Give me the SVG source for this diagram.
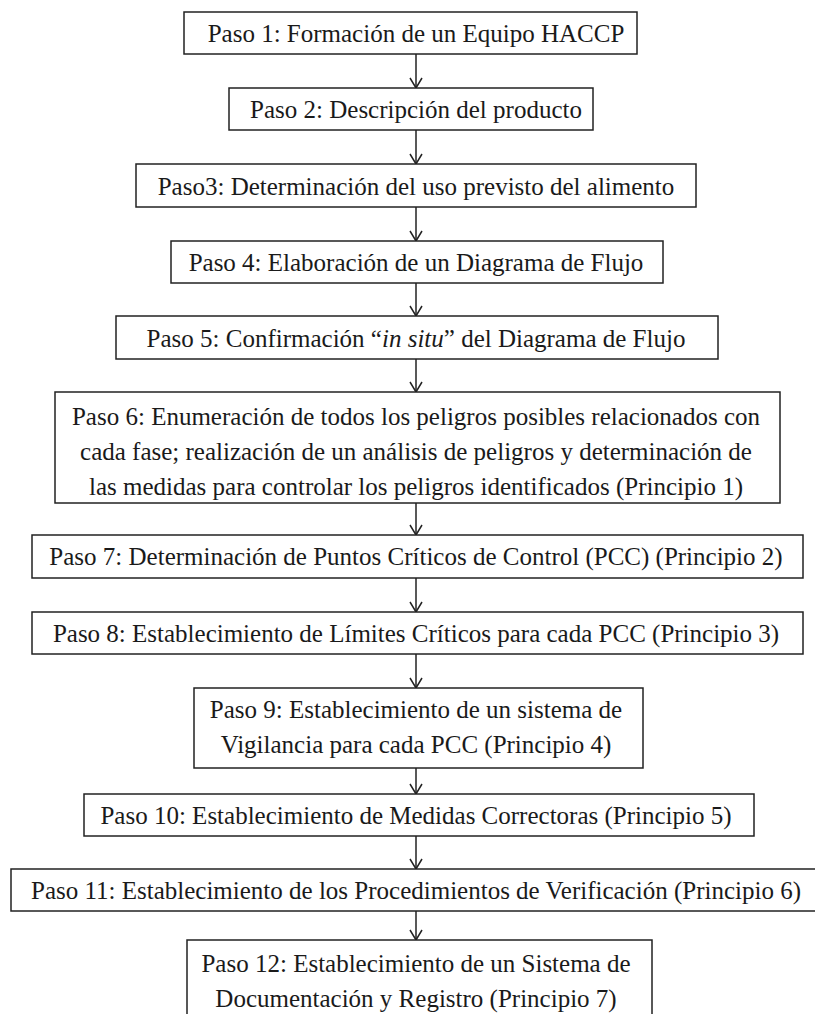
<svg xmlns="http://www.w3.org/2000/svg" width="815" height="1014" viewBox="0 0 815 1014">
<defs>
<style>
.box{fill:#fff;stroke:#222;stroke-width:1.5}
.t{font-family:'Liberation Serif','Times New Roman',Tinos,'DejaVu Serif',serif;font-size:25px;fill:#1a1a1a;text-anchor:middle}
.c{stroke:#222;stroke-width:1.5;fill:none}
</style>
<marker id="ah" viewBox="0 0 12 14" refX="11" refY="7" markerWidth="12" markerHeight="14" markerUnits="userSpaceOnUse" orient="auto">
<path d="M1,1 L11,7 L1,13" fill="none" stroke="#222" stroke-width="1.5"/>
</marker>
</defs>
<rect width="815" height="1014" fill="#fff"/>
<g id="connectors">
<line class="c" x1="416" y1="54" x2="416" y2="88" marker-end="url(#ah)"/>
<line class="c" x1="416" y1="130" x2="416" y2="164" marker-end="url(#ah)"/>
<line class="c" x1="416" y1="207" x2="416" y2="241" marker-end="url(#ah)"/>
<line class="c" x1="416" y1="283" x2="416" y2="316" marker-end="url(#ah)"/>
<line class="c" x1="416" y1="359" x2="416" y2="392" marker-end="url(#ah)"/>
<line class="c" x1="416" y1="503" x2="416" y2="535" marker-end="url(#ah)"/>
<line class="c" x1="416" y1="578" x2="416" y2="612" marker-end="url(#ah)"/>
<line class="c" x1="416" y1="654" x2="416" y2="688" marker-end="url(#ah)"/>
<line class="c" x1="416" y1="768" x2="416" y2="794" marker-end="url(#ah)"/>
<line class="c" x1="416" y1="836" x2="416" y2="869" marker-end="url(#ah)"/>
<line class="c" x1="416" y1="911" x2="416" y2="940" marker-end="url(#ah)"/>
</g>
<g font-family="'Liberation Serif','Times New Roman',Tinos,'DejaVu Serif',serif">
<g id="paso1"><rect class="box" x="184" y="12" width="453" height="42"/><text class="t" x="416" y="42">Paso 1: Formación de un Equipo HACCP</text></g>
<g id="paso2"><rect class="box" x="229" y="88" width="364" height="42"/><text class="t" x="416" y="118">Paso 2: Descripción del producto</text></g>
<g id="paso3"><rect class="box" x="136" y="164" width="560" height="43"/><text class="t" x="416" y="195">Paso3: Determinación del uso previsto del alimento</text></g>
<g id="paso4"><rect class="box" x="171" y="241" width="492" height="42"/><text class="t" x="416" y="271">Paso 4: Elaboración de un Diagrama de Flujo</text></g>
<g id="paso5"><rect class="box" x="116" y="316" width="602" height="43"/><text class="t" x="416" y="347">Paso 5: Confirmación “<tspan font-style="italic">in situ</tspan>” del Diagrama de Flujo</text></g>
<g id="paso6"><rect class="box" x="55" y="392" width="725" height="111"/><text class="t" x="416" y="425">Paso 6: Enumeración de todos los peligros posibles relacionados con</text><text class="t" x="416" y="460">cada fase; realización de un análisis de peligros y determinación de</text><text class="t" x="416" y="495">las medidas para controlar los peligros identificados (Principio 1)</text></g>
<g id="paso7"><rect class="box" x="32" y="535" width="771" height="43"/><text class="t" x="416" y="565">Paso 7: Determinación de Puntos Críticos de Control (PCC) (Principio 2)</text></g>
<g id="paso8"><rect class="box" x="32" y="612" width="771" height="42"/><text class="t" x="416" y="642">Paso 8: Establecimiento de Límites Críticos para cada PCC (Principio 3)</text></g>
<g id="paso9"><rect class="box" x="194" y="688" width="449" height="80"/><text class="t" x="416" y="718">Paso 9: Establecimiento de un sistema de</text><text class="t" x="416" y="753">Vigilancia para cada PCC (Principio 4)</text></g>
<g id="paso10"><rect class="box" x="84" y="794" width="670" height="42"/><text class="t" x="416" y="824">Paso 10: Establecimiento de Medidas Correctoras (Principio 5)</text></g>
<g id="paso11"><rect class="box" x="11" y="869" width="810" height="42"/><text class="t" x="416" y="899">Paso 11: Establecimiento de los Procedimientos de Verificación (Principio 6)</text></g>
<g id="paso12"><rect class="box" x="187" y="940" width="465" height="85"/><text class="t" x="416" y="972">Paso 12: Establecimiento de un Sistema de</text><text class="t" x="416" y="1007">Documentación y Registro (Principio 7)</text></g>
</g>
</svg>
